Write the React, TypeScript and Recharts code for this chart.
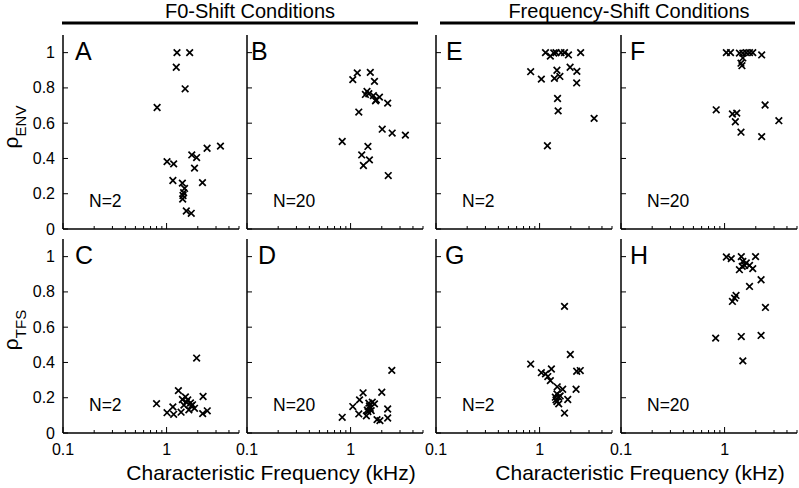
import { Scatter, ScatterChart, XAxis, YAxis } from "recharts";

// characteristic frequency (kHz) and correlation, one pair of arrays per panel
const freqA = [1.26, 1.67, 1.24, 1.51, 0.81, 1.01, 1.17, 1.75, 1.95, 1.86, 2.46, 3.31, 1.15, 1.42, 1.49, 1.46, 1.44, 1.43, 2.22, 1.55, 1.73];
const rhoA = [1.0, 1.0, 0.917, 0.795, 0.689, 0.382, 0.369, 0.42, 0.405, 0.345, 0.458, 0.47, 0.275, 0.26, 0.23, 0.206, 0.19, 0.17, 0.263, 0.102, 0.089];

const freqB = [1.16, 1.05, 1.55, 1.7, 1.44, 1.5, 1.39, 1.66, 1.77, 1.9, 1.74, 2.28, 1.2, 2.02, 2.52, 3.38, 0.83, 1.47, 1.28, 1.52, 1.33, 2.31];
const rhoB = [0.885, 0.847, 0.888, 0.837, 0.78, 0.767, 0.763, 0.756, 0.733, 0.748, 0.727, 0.714, 0.663, 0.566, 0.544, 0.532, 0.496, 0.468, 0.42, 0.392, 0.36, 0.303];

const freqC = [1.95, 1.3, 2.25, 0.8, 1.52, 1.6, 1.7, 1.42, 1.47, 1.73, 1.86, 1.15, 1.01, 1.17, 1.38, 1.64, 2.23, 2.47, 1.55, 1.78];
const rhoC = [0.425, 0.24, 0.207, 0.166, 0.205, 0.188, 0.17, 0.19, 0.158, 0.153, 0.14, 0.148, 0.115, 0.106, 0.118, 0.131, 0.11, 0.126, 0.175, 0.16];

const freqD = [2.5, 2.0, 1.32, 1.22, 1.05, 1.5, 1.7, 1.55, 1.47, 1.58, 1.2, 1.42, 2.28, 2.28, 0.83, 1.8, 1.92, 1.52, 1.62, 1.45];
const rhoD = [0.355, 0.231, 0.228, 0.188, 0.15, 0.169, 0.165, 0.14, 0.121, 0.127, 0.108, 0.097, 0.136, 0.085, 0.089, 0.076, 0.07, 0.153, 0.175, 0.13];

const freqE = [1.14, 1.27, 1.37, 1.44, 1.61, 1.74, 1.9, 2.49, 0.82, 1.04, 1.39, 1.47, 1.57, 1.97, 2.29, 2.28, 1.49, 1.51, 3.36, 1.19];
const rhoE = [1.0, 0.98, 0.998, 1.0, 1.0, 1.0, 0.987, 1.0, 0.892, 0.85, 0.854, 0.9, 0.865, 0.917, 0.894, 0.828, 0.74, 0.67, 0.627, 0.472];

const freqF = [1.04, 1.14, 1.39, 1.5, 1.62, 1.74, 1.87, 2.28, 1.5, 1.44, 1.47, 0.83, 1.19, 1.31, 1.27, 2.46, 3.34, 1.44, 2.28];
const rhoF = [1.0, 1.0, 0.997, 0.997, 1.0, 1.0, 1.0, 0.987, 0.97, 0.94, 0.926, 0.676, 0.652, 0.657, 0.608, 0.703, 0.614, 0.549, 0.524];

const freqG = [1.74, 1.98, 0.82, 1.3, 1.04, 1.14, 1.2, 1.27, 2.28, 2.47, 1.48, 1.67, 2.25, 1.47, 1.42, 1.53, 1.87, 1.47, 1.53, 1.74, 1.44, 1.58];
const rhoG = [0.718, 0.445, 0.391, 0.363, 0.342, 0.335, 0.32, 0.297, 0.35, 0.354, 0.262, 0.248, 0.248, 0.222, 0.203, 0.203, 0.19, 0.178, 0.165, 0.113, 0.188, 0.21];

const freqH = [1.04, 1.16, 1.45, 1.99, 1.5, 1.62, 1.74, 1.87, 1.39, 1.48, 1.56, 2.25, 1.74, 1.29, 1.25, 1.19, 2.48, 0.82, 1.45, 2.25, 1.5];
const rhoH = [0.998, 0.989, 1.0, 1.0, 0.973, 0.964, 0.95, 0.932, 0.926, 0.945, 0.95, 0.869, 0.831, 0.78, 0.765, 0.746, 0.712, 0.538, 0.547, 0.553, 0.409];

const xTicks = [0.1, 0.2, 0.3, 0.4, 0.5, 0.6, 0.7, 0.8, 0.9, 1, 2, 3, 4, 5];
const xLabelTicks = [0.1, 1];
const yTicks = [0, 0.2, 0.4, 0.6, 0.8, 1];

const FONT = "'Liberation Sans', Arial, Helvetica, sans-serif";
const PLOT_W = 176;
const PLOT_H = 194;
const AXIS_W = 40;

interface Panel {
  letter: string;
  n: string;
  left: number;
  top: number;
  letterDx: number;
  freq: number[];
  rho: number[];
  yLabels: boolean;
  xLabels: boolean;
}

const panels: Panel[] = [
  { letter: "A", n: "N=2", left: 63, top: 35, letterDx: 12, freq: freqA, rho: rhoA, yLabels: true, xLabels: false },
  { letter: "B", n: "N=20", left: 247, top: 35, letterDx: 4, freq: freqB, rho: rhoB, yLabels: false, xLabels: false },
  { letter: "E", n: "N=2", left: 436, top: 35, letterDx: 10, freq: freqE, rho: rhoE, yLabels: false, xLabels: false },
  { letter: "F", n: "N=20", left: 621, top: 35, letterDx: 9, freq: freqF, rho: rhoF, yLabels: false, xLabels: false },
  { letter: "C", n: "N=2", left: 63, top: 239, letterDx: 12, freq: freqC, rho: rhoC, yLabels: true, xLabels: true },
  { letter: "D", n: "N=20", left: 247, top: 239, letterDx: 11, freq: freqD, rho: rhoD, yLabels: false, xLabels: true },
  { letter: "G", n: "N=2", left: 436, top: 239, letterDx: 9, freq: freqG, rho: rhoG, yLabels: false, xLabels: true },
  { letter: "H", n: "N=20", left: 621, top: 239, letterDx: 9, freq: freqH, rho: rhoH, yLabels: false, xLabels: true },
];

function Cross(props: any) {
  const { cx, cy } = props;
  const s = 3.3;
  return (
    <path
      d={`M${cx - s},${cy - s}L${cx + s},${cy + s}M${cx - s},${cy + s}L${cx + s},${cy - s}`}
      stroke="#000"
      strokeWidth={1.7}
      fill="none"
    />
  );
}

function makeXTick(showLabels: boolean) {
  return (props: any) => {
    const { x, y, payload } = props;
    const major = payload.value === 1 || payload.value === 0.1;
    const labelled = showLabels && xLabelTicks.includes(payload.value);
    return (
      <g>
        <line x1={x} x2={x} y1={y} y2={y - (major ? 6 : 3)} stroke="#000" strokeWidth={1} />
        {labelled && (
          <text x={x} y={y + 22} textAnchor="middle" fontSize={16} fontFamily={FONT} fill="#000">
            {payload.value}
          </text>
        )}
      </g>
    );
  };
}

function makeYTick(showLabels: boolean) {
  return (props: any) => {
    const { x, y, payload } = props;
    return (
      <g>
        <line x1={x} x2={x + 5} y1={y} y2={y} stroke="#000" strokeWidth={1} />
        {showLabels && (
          <text x={x - 8} y={y + 5.5} textAnchor="end" fontSize={16} fontFamily={FONT} fill="#000">
            {payload.value}
          </text>
        )}
      </g>
    );
  };
}

function PanelChart({ panel }: { panel: Panel }) {
  const data = panel.freq.map((f, i) => ({ x: f, y: panel.rho[i] }));
  return (
    <div style={{ position: "absolute", left: panel.left - AXIS_W, top: panel.top - 10 }}>
      <ScatterChart
        width={AXIS_W + PLOT_W + 10}
        height={10 + PLOT_H + 30}
        margin={{ top: 10, right: 10, bottom: 0, left: 0 }}
      >
        <XAxis
          type="number"
          dataKey="x"
          scale="log"
          domain={[0.1, 5]}
          allowDataOverflow
          ticks={xTicks}
          interval={0}
          height={30}
          tickSize={0}
          tickMargin={0}
          tickLine={false}
          axisLine={{ stroke: "#000", strokeWidth: 1.5 }}
          tick={makeXTick(panel.xLabels)}
        />
        <YAxis
          type="number"
          dataKey="y"
          domain={[0, 1.1]}
          allowDataOverflow
          ticks={yTicks}
          interval={0}
          width={AXIS_W}
          tickSize={0}
          tickMargin={0}
          tickLine={false}
          axisLine={{ stroke: "#000", strokeWidth: 1.5 }}
          tick={makeYTick(panel.yLabels)}
        />
        <Scatter data={data} shape={<Cross />} isAnimationActive={false} />
      </ScatterChart>
    </div>
  );
}

export default function App() {
  return (
    <div style={{ position: "absolute", left: 0, top: 0, width: 799, height: 488, background: "#fff", fontFamily: FONT }}>
      {panels.map((p) => (
        <PanelChart key={p.letter} panel={p} />
      ))}
      <svg width={799} height={488} style={{ position: "absolute", left: 0, top: 0, pointerEvents: "none" }}>
        <g fontFamily={FONT} fill="#000">
          <text x={250} y={18} textAnchor="middle" fontSize={20}>F0-Shift Conditions</text>
          <line x1={62} x2={418} y1={23} y2={23} stroke="#000" strokeWidth={3} />
          <text x={629} y={18} textAnchor="middle" fontSize={20}>Frequency-Shift Conditions</text>
          <line x1={440} x2={795} y1={23} y2={23} stroke="#000" strokeWidth={3} />

          {panels.map((p) => (
            <g key={p.letter}>
              <text x={p.left + p.letterDx} y={p.top + 25} fontSize={25}>{p.letter}</text>
              <text x={p.left + 26} y={p.top + 172} fontSize={17.5}>{p.n}</text>
            </g>
          ))}

          <text transform="translate(18,127) rotate(-90)" textAnchor="middle" fontSize={21}>
            ρ<tspan fontSize={15} dy={8}>ENV</tspan>
          </text>
          <text transform="translate(18,330) rotate(-90)" textAnchor="middle" fontSize={21}>
            ρ<tspan fontSize={15} dy={8}>TFS</tspan>
          </text>

          <text x={271} y={480} textAnchor="middle" fontSize={21}>Characteristic Frequency (kHz)</text>
          <text x={640} y={480} textAnchor="middle" fontSize={21}>Characteristic Frequency (kHz)</text>
        </g>
      </svg>
    </div>
  );
}
